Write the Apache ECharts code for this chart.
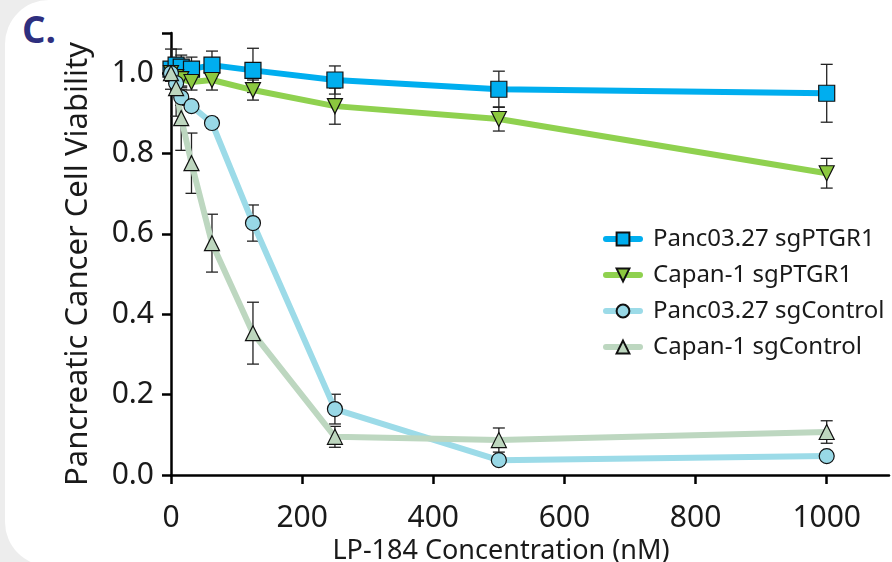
<!DOCTYPE html>
<html>
<head>
<meta charset="utf-8">
<script src="https://cdn.jsdelivr.net/npm/echarts@6/dist/echarts.min.js"></script>
<style>
  html, body { margin: 0; padding: 0; background: #ededed; overflow: hidden; }
  .card { position: absolute; left: 5px; top: 0; width: 940px; height: 566px; background: #fff; border-radius: 44px; }
  .tag { position: absolute; left: 22px; top: 3px; font: bold 37px "Open Sans", "Noto Sans", sans-serif; color: #2e2f7f; }
  #chart { position: absolute; left: 0; top: 0; width: 892px; height: 562px; }
</style>
</head>
<body>
<div class="card"></div>
<div class="tag">C.</div>
<div id="chart"></div>
<script>
// LP-184 concentrations (nM)
const conc = [0, 7.8, 15.6, 31.25, 62.5, 125, 250, 500, 1000];

const seriesNames = ['Panc03.27 sgPTGR1', 'Capan-1 sgPTGR1', 'Panc03.27 sgControl', 'Capan-1 sgControl'];

// mean viability
const pancPTGR1 = [1.01, 1.02, 1.015, 1.01, 1.02, 1.007, 0.983, 0.96, 0.95];
const capanPTGR1 = [1.0, 0.99, 0.985, 0.978, 0.983, 0.958, 0.918, 0.886, 0.751];
const pancCtrl = [1.0, 0.975, 0.94, 0.918, 0.876, 0.627, 0.164, 0.037, 0.047];
const capanCtrl = [1.0, 0.963, 0.888, 0.776, 0.577, 0.353, 0.095, 0.087, 0.107];

// error (+/-)
const pancPTGR1Err = [0.05, 0.04, 0.03, 0.03, 0.035, 0.055, 0.035, 0.045, 0.072];
const capanPTGR1Err = [0.02, 0.02, 0.02, 0.02, 0.025, 0.025, 0.045, 0.03, 0.037];
const pancCtrlErr = [0.02, 0.03, 0.02, 0.01, 0.012, 0.045, 0.037, 0.01, 0.01];
const capanCtrlErr = [0.02, 0.07, 0.08, 0.075, 0.072, 0.077, 0.026, 0.03, 0.028];

const xTicks = [0, 200, 400, 600, 800, 1000];

const lineColors = ['#00aeef', '#8fd14f', '#9cdbe8', '#bdd7c0'];
const fillColors = ['#00aeef', '#8cc83f', '#98d8e6', '#bdd6be'];
const symbols = ['rect', 'triangle', 'circle', 'triangle'];
const means = [pancPTGR1, capanPTGR1, pancCtrl, capanCtrl];
const errs = [pancPTGR1Err, capanPTGR1Err, pancCtrlErr, capanCtrlErr];

const chart = echarts.init(document.getElementById('chart'), null, { renderer: 'canvas' });

const font = '"Noto Sans", "Open Sans", sans-serif';

const errorBar = (params, api) => {
  const x = api.value(0);
  const lo = api.coord([x, api.value(1)]);
  const hi = api.coord([x, api.value(2)]);
  const w = 6;
  const style = { stroke: '#222', lineWidth: 1.3 };
  return {
    type: 'group',
    children: [
      { type: 'line', shape: { x1: lo[0], y1: lo[1], x2: hi[0], y2: hi[1] }, style },
      { type: 'line', shape: { x1: lo[0] - w, y1: lo[1], x2: lo[0] + w, y2: lo[1] }, style },
      { type: 'line', shape: { x1: hi[0] - w, y1: hi[1], x2: hi[0] + w, y2: hi[1] }, style }
    ]
  };
};

const series = [];
means.forEach((m, i) => {
  series.push({
    name: seriesNames[i] + ' err',
    type: 'custom',
    renderItem: errorBar,
    data: conc.map((c, k) => [c, m[k] - errs[i][k], m[k] + errs[i][k]]),
    z: 1,
    silent: true
  });
});
means.forEach((m, i) => {
  series.push({
    name: seriesNames[i],
    type: 'line',
    data: conc.map((c, k) => [c, m[k]]),
    symbol: symbols[i],
    symbolSize: i === 0 ? 16 : 15,
    symbolRotate: i === 1 ? 180 : 0,
    showAllSymbol: true,
    lineStyle: { color: lineColors[i], width: 6, cap: 'round', join: 'round' },
    itemStyle: { color: fillColors[i], borderColor: '#111', borderWidth: 1.2 },
    z: 2
  });
});

const option = {
  animation: false,
  grid: { left: 171, right: 3, top: 33, bottom: 87, containLabel: false, outerBoundsMode: 'none' },
  legend: {
    data: seriesNames,
    orient: 'vertical',
    left: 598,
    top: 222,
    itemWidth: 34,
    itemHeight: 16,
    itemGap: 12,
    lineStyle: { width: 6, cap: 'round' },
    textStyle: { fontFamily: font, fontSize: 24, color: '#1a1a1a', padding: [0, 0, 0, 8] }
  },
  xAxis: {
    type: 'value',
    min: 0,
    max: 1095,
    name: 'LP-184 Concentration (nM)',
    nameLocation: 'middle',
    nameGap: 61,
    nameTextStyle: { fontFamily: font, fontSize: 27, color: '#1a1a1a', padding: [0, 58, 0, 0] },
    axisLine: { lineStyle: { color: '#000', width: 2.5 } },
    axisTick: { show: true, length: 9, lineStyle: { color: '#000', width: 2.5 }, customValues: xTicks },
    axisLabel: {
      fontFamily: font, fontSize: 30, color: '#1a1a1a', margin: 28, customValues: xTicks,
      formatter: v => String(v)
    },
    splitLine: { show: false }
  },
  yAxis: {
    type: 'value',
    min: 0,
    max: 1.1,
    interval: 0.2,
    name: 'Pancreatic Cancer Cell Viability',
    nameLocation: 'middle',
    nameGap: 77,
    nameTextStyle: { fontFamily: font, fontSize: 31, color: '#1a1a1a', padding: [0, 20, 0, 0] },
    axisLine: { show: true, lineStyle: { color: '#000', width: 2.5 } },
    axisTick: { show: true, length: 9, lineStyle: { color: '#000', width: 2.5 } },
    axisLabel: {
      fontFamily: font, fontSize: 30, color: '#1a1a1a', margin: 17,
      formatter: v => (Math.abs(v * 5 - Math.round(v * 5)) < 1e-6 ? v.toFixed(1) : '')
    },
    splitLine: { show: false }
  },
  series
};

chart.setOption(option);
</script>
</body>
</html>
